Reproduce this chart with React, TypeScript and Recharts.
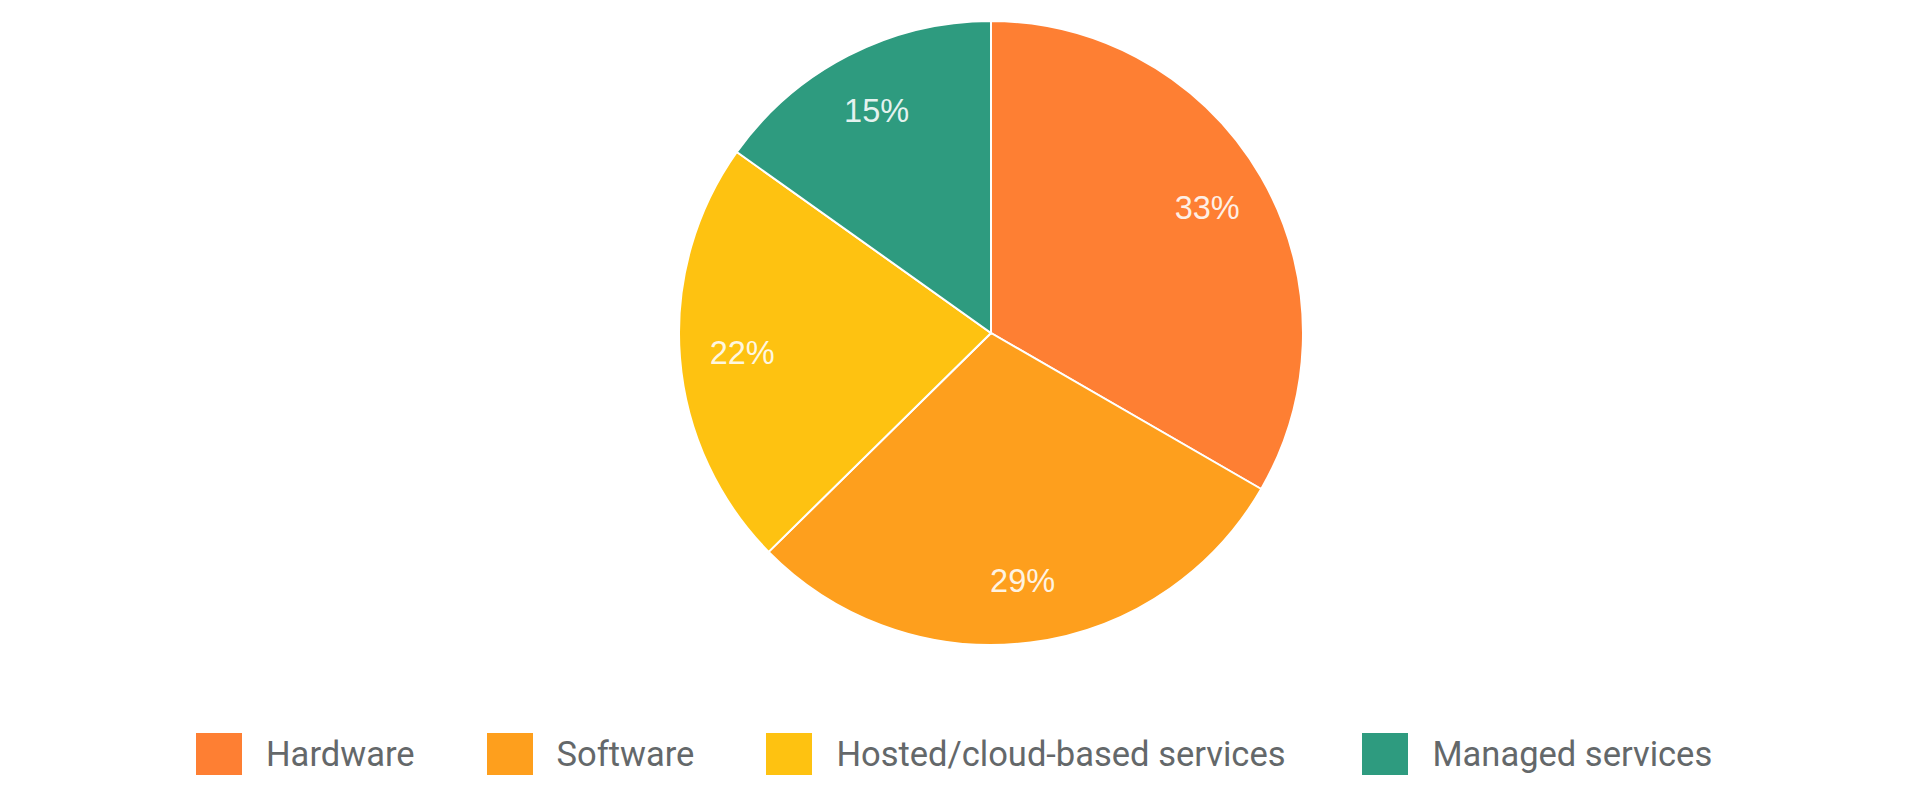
import React from 'react';
import { PieChart, Pie, Cell, Legend } from 'recharts';

const categories = ['Hardware', 'Software', 'Hosted/cloud-based services', 'Managed services'];
const shares = [33, 29, 22, 15];
const colors = ['#FE7F33', '#FE9F1D', '#FEC211', '#2E9B7F'];

const data = categories.map((name, i) => ({ name, value: shares[i] }));

const RADIAN = Math.PI / 180;
const legendGaps = [72, 72, 77, 0];

const renderLabel = (props: any) => {
  const { cx, cy, midAngle, outerRadius, value } = props;
  const r = outerRadius * 0.8;
  const x = cx + r * Math.cos(-midAngle * RADIAN);
  const y = cy + r * Math.sin(-midAngle * RADIAN);
  return (
    <text
      x={x}
      y={y}
      fill="#ffffff"
      fillOpacity={0.88}
      textAnchor="middle"
      dominantBaseline="central"
      fontFamily="'Liberation Sans', Arial, sans-serif"
      fontSize={32.5}
    >
      {`${value}%`}
    </text>
  );
};

const renderLegend = () => (
  <div
    style={{
      display: 'flex',
      alignItems: 'center',
      paddingLeft: 196,
      fontFamily: 'Roboto, sans-serif',
      fontSize: 34.5,
      color: '#64686a',
    }}
  >
    {categories.map((c, i) => (
      <div key={c} style={{ display: 'flex', alignItems: 'center', marginRight: legendGaps[i] }}>
        <div style={{ width: 46, height: 42, background: colors[i], marginRight: 24 }} />
        <span style={{ lineHeight: '42px', whiteSpace: 'nowrap' }}>{c}</span>
      </div>
    ))}
  </div>
);

export default function App() {
  return (
    <div style={{ position: 'absolute', left: 0, top: 0, width: 1920, height: 800, background: '#fff' }}>
      <PieChart width={1920} height={800} margin={{ top: 0, right: 0, bottom: 0, left: 0 }}>
        <Pie
          data={data}
          dataKey="value"
          nameKey="name"
          cx={991}
          cy={333}
          outerRadius={312}
          startAngle={90}
          endAngle={-270}
          stroke="#ffffff"
          strokeWidth={2}
          label={renderLabel}
          labelLine={false}
          isAnimationActive={false}
        >
          {data.map((d, i) => (
            <Cell key={d.name} fill={colors[i]} />
          ))}
        </Pie>
        <Legend
          content={renderLegend}
          verticalAlign="bottom"
          align="left"
          wrapperStyle={{ position: 'absolute', top: 733, bottom: 'auto', left: 0, width: 1920 }}
        />
      </PieChart>
    </div>
  );
}
